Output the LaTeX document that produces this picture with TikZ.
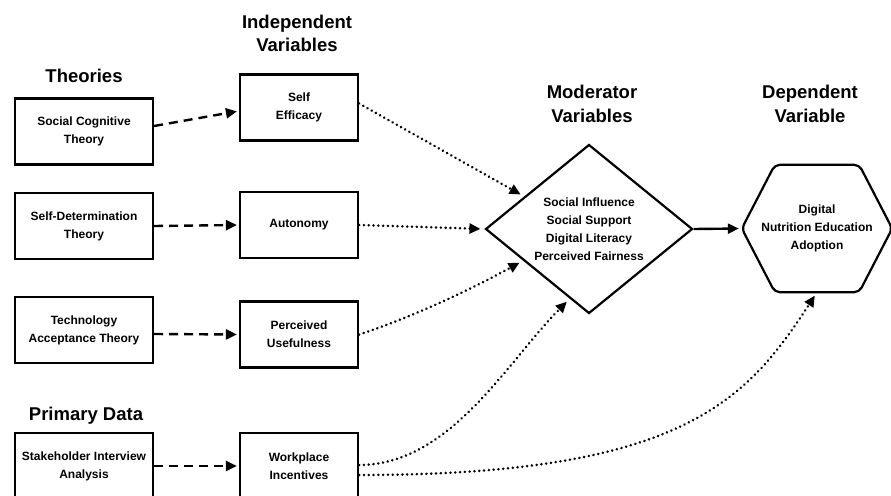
\documentclass[tikz,border=0pt]{standalone}
\usepackage{fontspec}
\setmainfont{Liberation Sans}
\usetikzlibrary{arrows.meta,shapes.geometric,calc}
\begin{document}
\begin{tikzpicture}[x=1pt,y=-1pt,
  title/.style={font=\fontsize{18.5}{23.5}\selectfont\bfseries,align=center,inner sep=0pt},
  txt/.style={font=\fontsize{12}{18}\selectfont\bfseries,align=center,inner sep=0pt},
  thbox/.style={txt,draw,line width=2.2pt,minimum width=138pt,minimum height=66pt},
  ivbox/.style={txt,draw,line width=2.2pt,minimum width=118pt,minimum height=66pt},
  tip/.style={-{Triangle[length=11pt,width=10pt]}},
  dasharrow/.style={tip,line width=2.4pt,dash pattern=on 9pt off 6pt,shorten >=2pt},
  dotarrow/.style={tip,line width=2.8pt,line cap=round,dash pattern=on 0.01pt off 4.8pt,shorten >=4pt},
  solidarrow/.style={tip,line width=2.4pt,shorten >=3pt}]
  \useasboundingbox (0,0) rectangle (891,495);
  \node[title,anchor=base] (tth) at (84,82) {Theories};
  \node[title] (tiv) at (297,33.5) {Independent\\Variables};
  \node[title] (tmod) at (592,104) {Moderator\\Variables};
  \node[title] (tdep) at (810,104) {Dependent\\Variable};
  \node[title,anchor=base] (tpd) at (86,420) {Primary Data};
  \node[thbox] (sct) at (84,131.5) {Social Cognitive\\Theory};
  \node[thbox] (sdt) at (84,226) {Self-Determination\\Theory};
  \node[thbox] (tam) at (84,330) {Technology\\Acceptance Theory};
  \node[thbox] (sia) at (84,466) {Stakeholder Interview\\Analysis};
  \node[ivbox] (se) at (299,107.5) {Self\\Efficacy};
  \node[ivbox] (aut) at (299,225) {Autonomy};
  \node[ivbox] (pu) at (299,334.5) {Perceived\\Usefulness};
  \node[ivbox] (wi) at (299,466) {Workplace\\Incentives};
  \node[txt,draw,line width=2.2pt,diamond,shape aspect=1.22,minimum width=207pt,minimum height=169pt] (mod) at (589,229)
    {Social Influence\\Social Support\\Digital Literacy\\Perceived Fairness};
  \node[txt,minimum width=150pt,minimum height=127pt] (dep) at (817,228.5) {Digital\\Nutrition Education\\Adoption};
  \draw[line width=2.2pt,rounded corners=5pt] (dep.west) -- ([xshift=33pt]dep.north west) -- ([xshift=-33pt]dep.north east)
    -- (dep.east) -- ([xshift=-33pt]dep.south east) -- ([xshift=33pt]dep.south west) -- cycle;
  \draw[dasharrow] ([yshift=5.5pt]sct.east) -- ([yshift=-3.5pt]se.west);
  \draw[dasharrow] (sdt.east) -- (aut.west);
  \draw[dasharrow] ([yshift=-4pt]tam.east) -- (pu.west);
  \draw[dasharrow] (sia.east) -- (wi.west);
  \draw[dotarrow] ([yshift=4pt]se.east) -- ($(mod.west)!0.38!(mod.north)$);
  \draw[dotarrow] (aut.east) -- (mod.west);
  \draw[dotarrow] (pu.east) .. controls (410,318) and (470,290) .. ($(mod.west)!0.37!(mod.south)$);
  \draw[dotarrow] ([yshift=1pt]wi.east) .. controls (450,465) and (507,362) .. ($(mod.west)!0.815!(mod.south)$);
  \draw[dotarrow] ([yshift=-9pt]wi.east) .. controls (680,475) and (746,402) .. (dep.south);
  \draw[solidarrow] (mod.east) -- (dep.west);
\end{tikzpicture}
\end{document}
